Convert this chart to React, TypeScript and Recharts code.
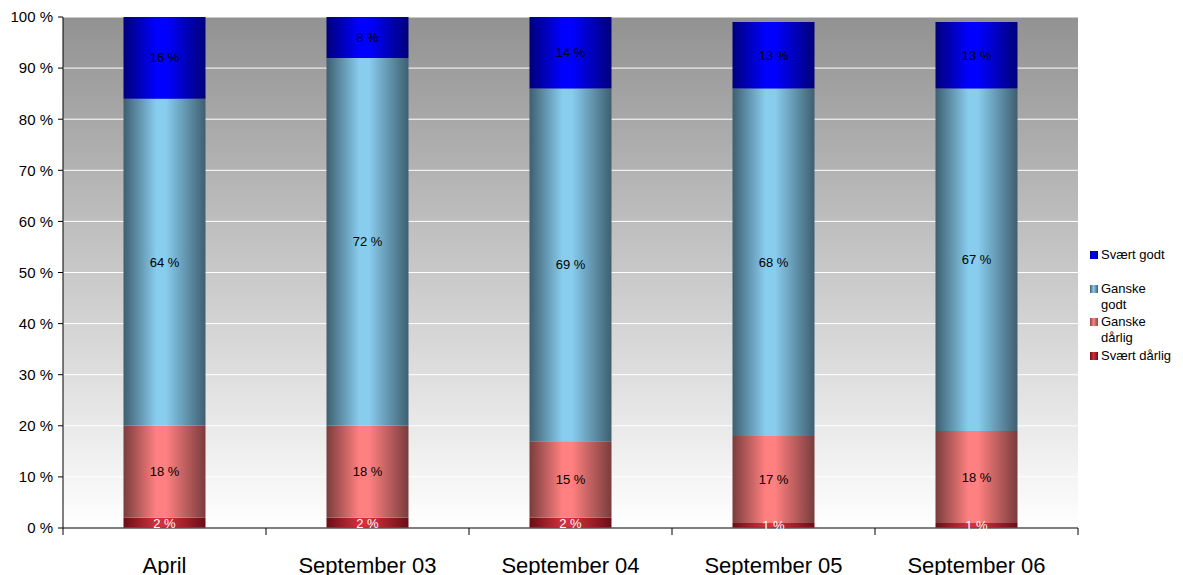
import React from 'react';
import { BarChart, Bar, XAxis, YAxis, CartesianGrid, LabelList } from 'recharts';

const categories = ['April', 'September 03', 'September 04', 'September 05', 'September 06'];
const svaertDarlig = [2, 2, 2, 1, 1];
const ganskeDarlig = [18, 18, 15, 17, 18];
const ganskeGodt = [64, 72, 69, 68, 67];
const svaertGodt = [16, 8, 14, 13, 13];
const yTicks = [0, 10, 20, 30, 40, 50, 60, 70, 80, 90, 100];

const data = categories.map((c, i) => ({
  name: c,
  sd: svaertDarlig[i],
  gd: ganskeDarlig[i],
  gg: ganskeGodt[i],
  sg: svaertGodt[i],
}));

const W = 1183;
const H = 575;
const PLOT_LEFT = 63;
const PLOT_RIGHT = 1078;
const BAND = (PLOT_RIGHT - PLOT_LEFT) / categories.length;
const FONT = '"Liberation Sans", Arial, sans-serif';

const legendItems = [
  { lines: ['Svært godt'], grad: 'gSG', top: 247 },
  { lines: ['Ganske', 'godt'], grad: 'gGG', top: 281 },
  { lines: ['Ganske', 'dårlig'], grad: 'gGD', top: 314 },
  { lines: ['Svært dårlig'], grad: 'gSD', top: 348 },
];
const legendSwatch: Record<string, string> = {
  gSG: 'linear-gradient(90deg,#0000a0,#0000ff 45%,#0000a0)',
  gGG: 'linear-gradient(90deg,#40606f,#88ccee 45%,#40606f)',
  gGD: 'linear-gradient(90deg,#8a4848,#ff8080 45%,#8a4848)',
  gSD: 'linear-gradient(90deg,#6b0d15,#d2303c 45%,#6b0d15)',
};

const XTick = (props: any) => {
  const { x, payload, index } = props;
  const axisY = 528;
  return (
    <g>
      <line x1={x - BAND / 2} x2={x - BAND / 2} y1={axisY} y2={axisY + 7} stroke="#000" />
      {index === categories.length - 1 && (
        <line x1={x + BAND / 2} x2={x + BAND / 2} y1={axisY} y2={axisY + 7} stroke="#000" />
      )}
      <text x={x} y={axisY + 45} textAnchor="middle" fontSize={22} fill="#000" fontFamily={FONT}>
        {payload.value}
      </text>
    </g>
  );
};

const grad = (id: string, edge: string, light: string) => (
  <linearGradient id={id} x1="0" y1="0" x2="1" y2="0">
    <stop offset="0%" stopColor={edge} />
    <stop offset="40%" stopColor={light} />
    <stop offset="52%" stopColor={light} />
    <stop offset="100%" stopColor={edge} />
  </linearGradient>
);

const fmt = (v: any) => `${v} %`;

export default function App() {
  return (
    <div style={{ position: 'absolute', left: 0, top: 0, width: W, height: H, background: '#fff', fontFamily: FONT }}>
      <BarChart
        width={W}
        height={H}
        data={data}
        margin={{ top: 17, right: W - PLOT_RIGHT, left: 0, bottom: 0 }}
        barCategoryGap="29.8%"
      >
        <defs>
          <linearGradient id="bg" x1="0" y1="0" x2="0" y2="1">
            <stop offset="0%" stopColor="#929292" />
            <stop offset="100%" stopColor="#ffffff" />
          </linearGradient>
          {grad('gSG', '#00007a', '#0000ff')}
          {grad('gGG', '#3e5f70', '#88ccee')}
          {grad('gGD', '#7a3c3c', '#ff8080')}
          {grad('gSD', '#6b0d15', '#d2303c')}
        </defs>
        <CartesianGrid vertical={false} stroke="#ffffff" fill="url(#bg)" fillOpacity={1} />
        <XAxis
          dataKey="name"
          height={H - 528}
          tick={<XTick />}
          tickLine={false}
          axisLine={{ stroke: '#555', strokeWidth: 1.5 }}
          interval={0}
        />
        <XAxis xAxisId="top" dataKey="name" orientation="top" height={0} tick={false} tickLine={false} axisLine={{ stroke: '#888', strokeWidth: 1.5 }} />
        <YAxis
          width={PLOT_LEFT}
          domain={[0, 100]}
          ticks={yTicks}
          interval={0}
          tickFormatter={fmt}
          tick={{ fontSize: 15, fill: '#000', fontFamily: FONT }}
          tickSize={5}
          tickMargin={5}
          tickLine={{ stroke: '#000' }}
          axisLine={{ stroke: '#000' }}
        />
        <YAxis yAxisId="right" orientation="right" width={0} domain={[0, 100]} tick={false} tickLine={false} axisLine={{ stroke: '#888', strokeWidth: 1.5 }} />
        <Bar dataKey="sd" stackId="a" fill="url(#gSD)" isAnimationActive={false}>
          <LabelList dataKey="sd" position="center" formatter={fmt} fill="#fff" fontSize={13} fontFamily={FONT} />
        </Bar>
        <Bar dataKey="gd" stackId="a" fill="url(#gGD)" isAnimationActive={false}>
          <LabelList dataKey="gd" position="center" formatter={fmt} fill="#000" fontSize={13} fontFamily={FONT} />
        </Bar>
        <Bar dataKey="gg" stackId="a" fill="url(#gGG)" isAnimationActive={false}>
          <LabelList dataKey="gg" position="center" formatter={fmt} fill="#000" fontSize={13} fontFamily={FONT} />
        </Bar>
        <Bar dataKey="sg" stackId="a" fill="url(#gSG)" isAnimationActive={false}>
          <LabelList dataKey="sg" position="center" formatter={fmt} fill="#000" fontSize={13} fontFamily={FONT} />
        </Bar>
      </BarChart>
      {legendItems.map((it) => (
        <div key={it.grad} style={{ position: 'absolute', left: 1090, top: it.top, fontSize: 13, lineHeight: '16px', color: '#000' }}>
          <span style={{ position: 'absolute', left: 0, top: 4, width: 8, height: 8, background: legendSwatch[it.grad] }} />
          <div style={{ marginLeft: 11 }}>
            {it.lines.map((l) => (
              <div key={l}>{l}</div>
            ))}
          </div>
        </div>
      ))}
    </div>
  );
}
